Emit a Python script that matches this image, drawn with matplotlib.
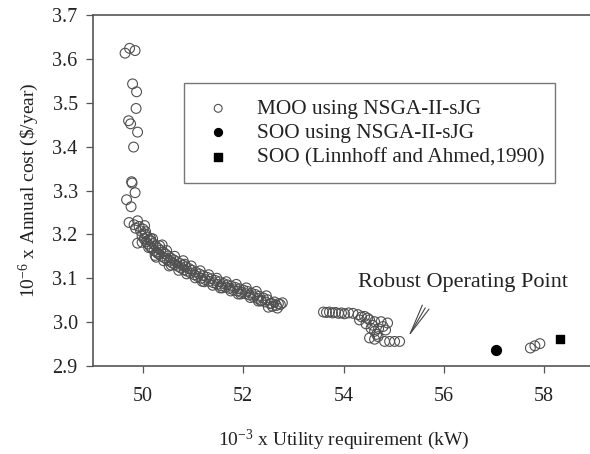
import matplotlib
matplotlib.use("Agg")
import matplotlib.pyplot as plt

plt.rcParams["font.family"] = ["Liberation Serif", "DejaVu Serif"]
plt.rcParams["mathtext.fontset"] = "custom"
plt.rcParams["mathtext.rm"] = "Liberation Serif"
plt.rcParams["mathtext.it"] = "Liberation Serif:italic"

# Pareto front from MOO (utility in 10^3 kW, cost in 10^6 $/year)
moo_top_x = [49.64, 49.73, 49.84, 49.79, 49.87, 49.86, 49.71, 49.75, 49.89, 49.81,
             49.77, 49.78, 49.84, 49.67, 49.76, 49.72, 49.89]
moo_top_y = [3.613, 3.624, 3.619, 3.543, 3.525, 3.487, 3.459, 3.452, 3.433, 3.399,
             3.320, 3.317, 3.295, 3.279, 3.263, 3.227, 3.231]

moo_band_x = [49.82, 49.85, 49.89, 49.92, 49.95, 49.98, 50.00, 50.02, 50.04, 50.06,
              50.08, 50.10, 50.12, 50.14, 50.15, 50.16, 50.18, 50.20, 50.22, 50.25,
              50.27, 50.29, 50.30, 50.32, 50.35, 50.37, 50.38, 50.40, 50.42, 50.45,
              50.48, 50.50, 50.53, 50.55, 50.58, 50.61, 50.64, 50.67, 50.70, 50.73,
              50.76, 50.79, 50.82, 50.85, 50.88, 50.92, 50.95, 50.98, 51.02, 51.05,
              51.09, 51.12, 51.16, 51.20, 51.24, 51.28, 51.32, 51.36, 51.40, 51.44,
              51.48, 51.52, 51.56, 51.60, 51.64, 51.68, 51.72, 51.76, 51.80, 51.84,
              51.88, 51.92, 51.96, 52.00, 52.04, 52.08, 52.12, 52.16, 52.20, 52.24,
              52.28, 52.32, 52.36, 52.40, 52.44, 52.48, 52.50, 52.54, 52.58, 52.62,
              52.66, 52.70, 52.74, 52.78,
              49.98, 50.05, 50.11, 50.19, 50.24, 50.33, 50.41, 50.47, 50.56, 50.63,
              50.71, 50.80, 50.87, 50.96, 51.04, 51.14, 51.22, 51.31, 51.39, 51.47,
              51.58, 51.66, 51.75, 51.86, 51.95, 52.06, 52.14, 52.26, 52.35, 52.46,
              52.56, 52.68, 50.03, 50.26, 50.52, 50.83, 51.18, 51.54, 51.90, 52.30]
moo_band_y = [3.222, 3.214, 3.180, 3.218, 3.208, 3.196, 3.212, 3.190, 3.201, 3.183,
              3.194, 3.178, 3.188, 3.172, 3.191, 3.185, 3.168, 3.179, 3.163, 3.174,
              3.160, 3.157, 3.168, 3.155, 3.164, 3.150, 3.176, 3.160, 3.147, 3.155,
              3.142, 3.151, 3.139, 3.146, 3.135, 3.142, 3.131, 3.138, 3.127, 3.134,
              3.123, 3.130, 3.119, 3.126, 3.116, 3.122, 3.112, 3.118, 3.108, 3.114,
              3.104, 3.110, 3.100, 3.106, 3.097, 3.102, 3.093, 3.099, 3.090, 3.095,
              3.086, 3.092, 3.083, 3.088, 3.080, 3.085, 3.077, 3.082, 3.074, 3.079,
              3.071, 3.076, 3.068, 3.073, 3.065, 3.070, 3.062, 3.066, 3.058, 3.063,
              3.054, 3.059, 3.050, 3.055, 3.046, 3.051, 3.034, 3.042, 3.036, 3.046,
              3.038, 3.042, 3.040, 3.044,
              3.182, 3.206, 3.170, 3.190, 3.152, 3.174, 3.140, 3.163, 3.130, 3.150,
              3.118, 3.140, 3.110, 3.128, 3.101, 3.117, 3.092, 3.108, 3.084, 3.100,
              3.078, 3.092, 3.071, 3.086, 3.064, 3.078, 3.056, 3.070, 3.048, 3.060,
              3.043, 3.032, 3.220, 3.148, 3.128, 3.132, 3.093, 3.078, 3.064, 3.048]

moo_mid_x = [53.60, 53.66, 53.72, 53.78, 53.84, 53.90, 53.96, 54.02, 54.10, 54.19,
             54.29, 54.42, 54.32, 54.52, 54.62, 54.75, 54.79, 54.55, 54.62, 54.52,
             54.62, 54.69, 54.82, 54.92, 55.02, 55.12, 54.88, 54.70, 54.45, 54.36,
             54.58, 54.84, 54.66, 54.48]
moo_mid_y = [3.023, 3.022, 3.023, 3.021, 3.022, 3.020, 3.021, 3.019, 3.021, 3.020,
             3.017, 3.013, 3.005, 3.005, 3.001, 3.001, 2.990, 2.986, 2.979, 2.964,
             2.961, 2.967, 2.956, 2.956, 2.956, 2.956, 2.998, 2.985, 2.996, 3.012,
             2.993, 2.982, 2.972, 3.009]

moo_right_x = [57.73, 57.82, 57.92]
moo_right_y = [2.941, 2.946, 2.951]

moo_x = moo_top_x + moo_band_x + moo_mid_x + moo_right_x
moo_y = moo_top_y + moo_band_y + moo_mid_y + moo_right_y

# Single-objective optima
soo_x, soo_y = [57.05], [2.937]
lit_x, lit_y = [58.33], [2.962]

x_ticks = [50, 52, 54, 56, 58]
y_ticks = [2.9, 3.0, 3.1, 3.2, 3.3, 3.4, 3.5, 3.6, 3.7]

fig = plt.figure(figsize=(5.9, 4.54), dpi=100)
ax = fig.add_axes([93 / 590, 88 / 454, 501 / 590, 351 / 454])

ax.scatter(moo_x, moo_y, s=50, facecolors="none", edgecolors="#505050",
           linewidths=0.8, label="MOO using NSGA-II-sJG", zorder=3)
ax.scatter(soo_x, soo_y, s=50, color="black",
           label="SOO using NSGA-II-sJG", zorder=4)
ax.scatter(lit_x, lit_y, s=40, marker="s", color="black",
           label="SOO (Linnhoff and Ahmed,1990)", zorder=4)

ax.set_xlim(49, 59)
ax.set_ylim(2.9, 3.7)
ax.set_xticks(x_ticks)
ax.set_yticks(y_ticks)
ax.set_yticklabels([f"{v:.1f}" for v in y_ticks])

for side in ["left", "bottom", "top", "right"]:
    ax.spines[side].set_color("#555555")
    ax.spines[side].set_linewidth(1.2)
ax.tick_params(direction="out", length=5, width=0.9, color="#555555",
               labelsize=14.5, labelcolor="#222222")
ax.tick_params(axis="x", pad=10)
ax.tick_params(axis="y", pad=6)

ax.set_xlabel(r"$10^{\mathrm{-3}}$ x Utility requirement (kW)", fontsize=14,
              color="#222222", labelpad=16)
ax.set_ylabel(r"$10^{\mathrm{-6}}$ x Annual cost (\$/year)", fontsize=14,
              color="#222222", labelpad=8)

# Arrow pointing to the robust operating point
ax.annotate("", xy=(55.26, 2.960), xytext=(55.66, 3.038),
            arrowprops=dict(arrowstyle="->,head_length=2.2,head_width=0.28",
                            lw=0.8, color="#444444"))
ax.text(56.38, 3.090, "Robust Operating Point", fontsize=16,
        color="#222222", ha="center", va="center")

leg = ax.legend(loc="upper left", bbox_to_anchor=(0.182, 0.524, 0.740, 0.282),
                mode="expand", fontsize=15.3, frameon=True, fancybox=False,
                edgecolor="#555555", borderpad=0.75, labelspacing=0.2,
                handletextpad=1.0, handlelength=1.7, markerscale=0.8,
                borderaxespad=0)
leg.get_frame().set_linewidth(1.0)
for t in leg.get_texts():
    t.set_color("#222222")

fig.savefig("out.png", dpi=100)
